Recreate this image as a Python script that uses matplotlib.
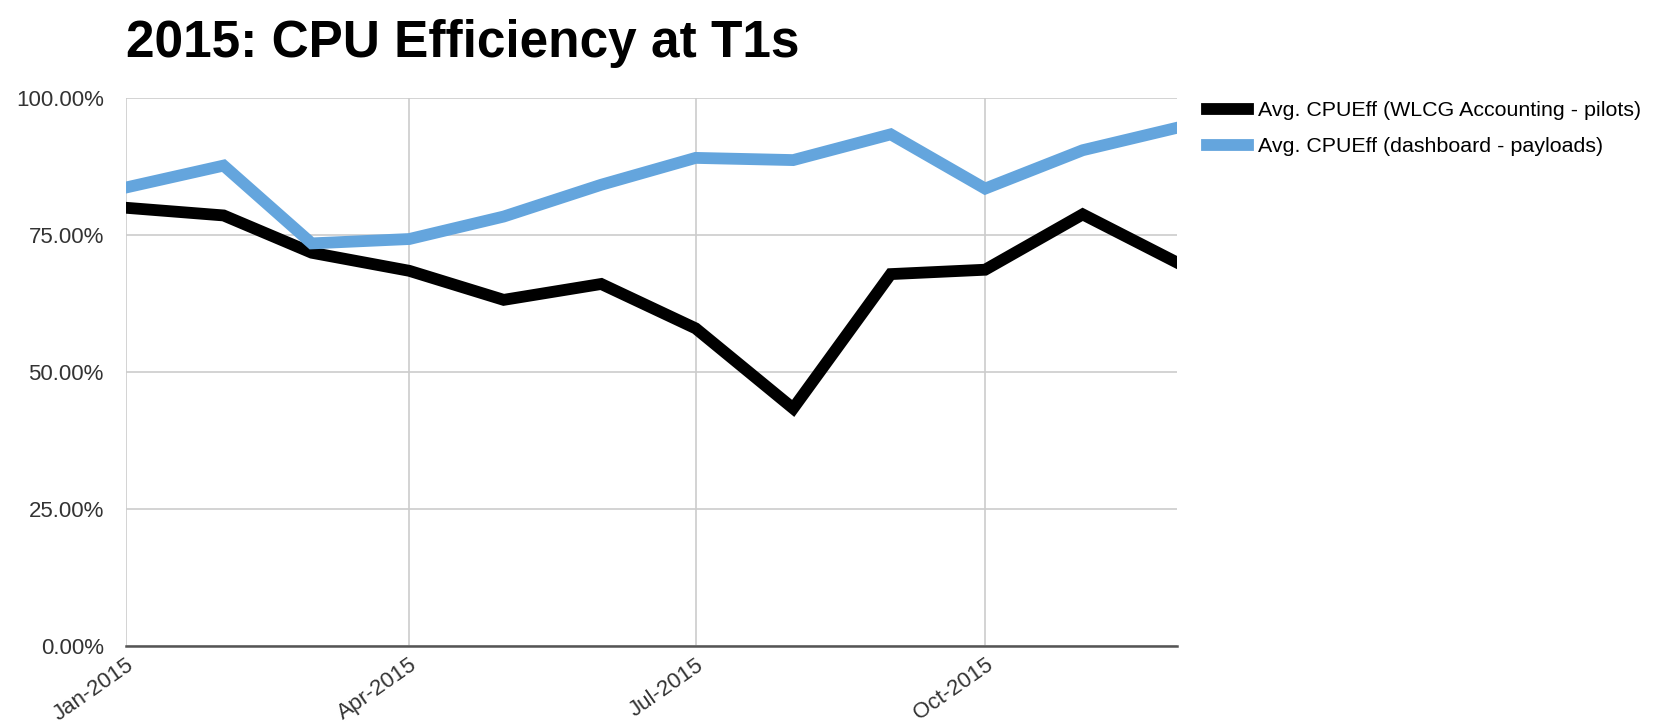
import matplotlib
matplotlib.use("Agg")
import matplotlib.pyplot as plt
import matplotlib.dates as mdates
import numpy as np
from datetime import date

# monthly values (percent)
months = [date(2015, m, 1) for m in range(1, 13)]
wlcg_pilots = [80.0, 78.6, 71.8, 68.5, 63.2, 66.1, 58.0, 43.4, 67.9, 68.7, 78.8, 70.0]
dashboard_payloads = [83.7, 87.7, 73.5, 74.3, 78.4, 84.2, 89.1, 88.7, 93.4, 83.5, 90.5, 94.6]
series_names = ["Avg. CPUEff (WLCG Accounting - pilots)",
                "Avg. CPUEff (dashboard - payloads)"]
tick_months = [date(2015, 1, 1), date(2015, 4, 1), date(2015, 7, 1), date(2015, 10, 1)]
y_ticks = [0, 25, 50, 75, 100]

plt.rcParams['font.family'] = ['Liberation Sans', 'DejaVu Sans']

fig = plt.figure(figsize=(16.72, 7.27), dpi=100)
ax = fig.add_axes([0.0754, 0.111, 0.6286, 0.754])

ax.plot(months, wlcg_pilots, color='black', lw=8.5, label=series_names[0],
        solid_joinstyle='miter', zorder=3)
ax.plot(months, dashboard_payloads, color='#64a5dd', lw=8.5, label=series_names[1],
        solid_joinstyle='miter', zorder=3)

ax.set_xlim(months[0], months[-1])
ax.set_ylim(0, 100)
ax.set_xticks(tick_months)
ax.xaxis.set_major_formatter(mdates.DateFormatter('%b-%Y'))
ax.set_yticks(y_ticks)
ax.set_yticklabels([f'{v:.2f}%' for v in y_ticks])

ax.grid(True, color='#cccccc', lw=1.2, zorder=0)
for s in ['top', 'right', 'left']:
    ax.spines[s].set_visible(False)
ax.spines['bottom'].set_color('#555555')
ax.spines['bottom'].set_linewidth(1.8)
ax.tick_params(length=0, labelsize=16, labelcolor='#333333')
ax.tick_params(axis='y', pad=16)
ax.tick_params(axis='x', pad=6)
for lbl in ax.get_xticklabels():
    lbl.set_rotation(35)
    lbl.set_ha('right')
    lbl.set_rotation_mode('anchor')

fig.text(0.0754, 0.922, "2015: CPU Efficiency at T1s", fontsize=37,
         fontweight='bold', ha='left', va='baseline')

ax.legend(loc='upper left', bbox_to_anchor=(1.02, 1.01), frameon=False,
          fontsize=15.4, handlelength=1.95, handletextpad=0.45, labelspacing=0.8,
          borderaxespad=0)

fig.savefig('out.png', dpi=100, facecolor='white')
